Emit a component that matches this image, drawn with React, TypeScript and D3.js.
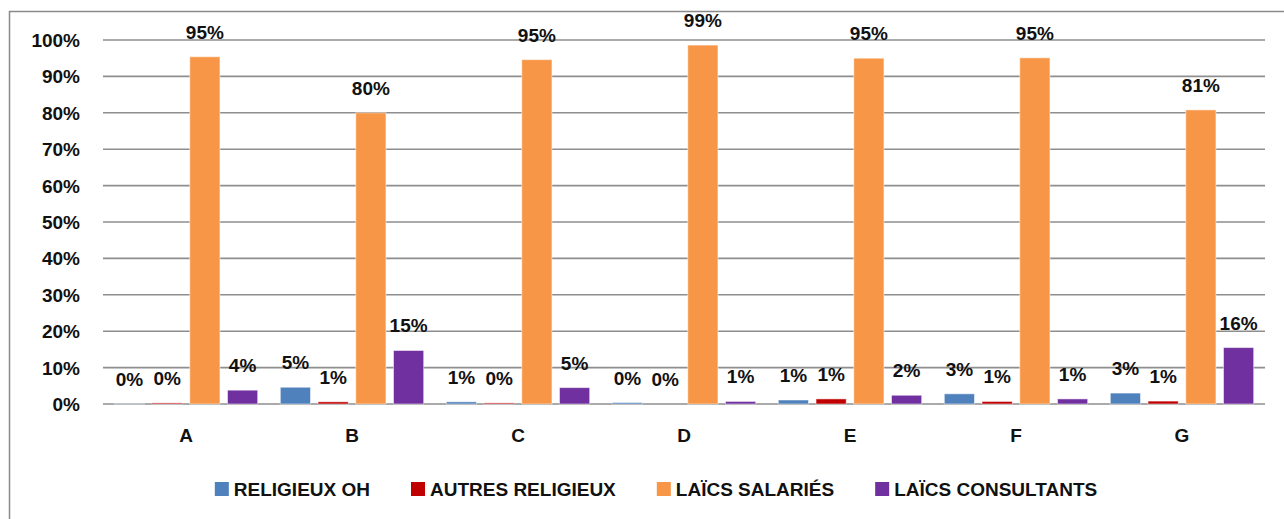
import React, { useEffect, useRef } from "react";
import * as d3 from "d3";

const categories = ["A", "B", "C", "D", "E", "F", "G"];
const seriesNames = ["RELIGIEUX OH", "AUTRES RELIGIEUX", "LAÏCS SALARIÉS", "LAÏCS CONSULTANTS"];
const seriesColors = ["#4F81BD", "#C00000", "#F79646", "#7030A0"];

const religieuxOH = [0.1, 4.6, 0.6, 0.4, 1.1, 2.8, 3.0];
const autresReligieux = [0.3, 0.6, 0.3, 0.0, 1.4, 0.7, 0.8];
const laicsSalaries = [95.4, 80.0, 94.6, 98.6, 95.0, 95.1, 80.8];
const laicsConsultants = [3.8, 14.7, 4.5, 0.7, 2.4, 1.4, 15.5];

const yTicks = [0, 10, 20, 30, 40, 50, 60, 70, 80, 90, 100];

const WIDTH = 1284;
const HEIGHT = 519;
const FONT = "'Liberation Sans', Arial, sans-serif";
const FONT_SIZE = 19;

const drawChart = (svgElement: SVGSVGElement): void => {
  const svg = d3.select(svgElement);
  svg.selectAll("*").remove();

  const series = [religieuxOH, autresReligieux, laicsSalaries, laicsConsultants];

  // outer chart border (cut off on right and bottom)
  svg
    .append("rect")
    .attr("x", 9.5)
    .attr("y", 11.5)
    .attr("width", 1292)
    .attr("height", 520)
    .attr("fill", "white")
    .attr("stroke", "#8a8a8a")
    .attr("stroke-width", 1.5);

  const plotLeft = 103;
  const plotRight = 1265;

  const x0 = d3.scaleBand<string>().domain(categories).range([plotLeft, plotRight]).padding(0);
  const x1 = d3
    .scaleBand<number>()
    .domain(d3.range(series.length))
    .range([0, x0.bandwidth()])
    .paddingInner(0.2)
    .paddingOuter(0.3);
  const y = d3.scaleLinear().domain([0, 100]).range([404, 40]);

  // gridlines
  svg
    .append("g")
    .selectAll("line")
    .data(yTicks)
    .enter()
    .append("line")
    .attr("x1", plotLeft)
    .attr("x2", plotRight)
    .attr("y1", (d) => y(d))
    .attr("y2", (d) => y(d))
    .attr("stroke", "#8e8e8e")
    .attr("stroke-width", 1.6);

  // y tick labels
  svg
    .append("g")
    .selectAll("text")
    .data(yTicks)
    .enter()
    .append("text")
    .attr("x", 80)
    .attr("y", (d) => y(d) + 7)
    .attr("text-anchor", "end")
    .attr("font-family", FONT)
    .attr("font-weight", "bold")
    .attr("font-size", FONT_SIZE)
    .attr("fill", "#111")
    .text((d) => `${d}%`);

  // bars
  const groups = svg
    .append("g")
    .selectAll("g")
    .data(categories)
    .enter()
    .append("g")
    .attr("transform", (d) => `translate(${x0(d)},0)`);

  series.forEach((values, si) => {
    groups
      .append("rect")
      .attr("x", x1(si)!)
      .attr("width", x1.bandwidth())
      .attr("y", (_, ci) => y(values[ci]))
      .attr("height", (_, ci) => y(0) - y(values[ci]))
      .attr("fill", seriesColors[si])
      .attr("stroke", "rgba(255,255,255,0.5)")
      .attr("stroke-width", 1);

    groups
      .append("text")
      .attr("x", x1(si)! + x1.bandwidth() / 2)
      .attr("y", (_, ci) => y(values[ci]) - 18)
      .attr("text-anchor", "middle")
      .attr("font-family", FONT)
      .attr("font-weight", "bold")
      .attr("font-size", FONT_SIZE)
      .attr("fill", "#111")
      .text((_, ci) => `${Math.round(values[ci])}%`);
  });

  // category labels
  svg
    .append("g")
    .selectAll("text")
    .data(categories)
    .enter()
    .append("text")
    .attr("x", (d) => x0(d)! + x0.bandwidth() / 2)
    .attr("y", 442)
    .attr("text-anchor", "middle")
    .attr("font-family", FONT)
    .attr("font-weight", "bold")
    .attr("font-size", FONT_SIZE)
    .attr("fill", "#111")
    .text((d) => d);

  // legend, measured then centered
  const legend = svg.append("g");
  const items = seriesNames.map((name, i) => {
    const g = legend.append("g");
    g.append("rect")
      .attr("x", 0)
      .attr("y", 482)
      .attr("width", 14)
      .attr("height", 14)
      .attr("fill", seriesColors[i]);
    const t = g
      .append("text")
      .attr("x", 19)
      .attr("y", 496)
      .attr("font-family", FONT)
      .attr("font-weight", "bold")
      .attr("font-size", FONT_SIZE)
      .attr("fill", "#111")
      .text(name);
    const w = (t.node() as SVGTextElement).getComputedTextLength();
    return { g, w: 19 + w };
  });
  const gap = 41;
  const total = d3.sum(items, (d) => d.w) + gap * (items.length - 1);
  let cx = 656 - total / 2;
  items.forEach((it) => {
    it.g.attr("transform", `translate(${cx},0)`);
    cx += it.w + gap;
  });
};

const App: React.FC = () => {
  const svgRef = useRef<SVGSVGElement>(null);

  useEffect(() => {
    if (svgRef.current) {
      drawChart(svgRef.current);
    }
  }, []);

  return (
    <svg
      ref={svgRef}
      width={WIDTH}
      height={HEIGHT}
      style={{ position: "absolute", left: 0, top: 0, background: "white" }}
    />
  );
};

export default App;
